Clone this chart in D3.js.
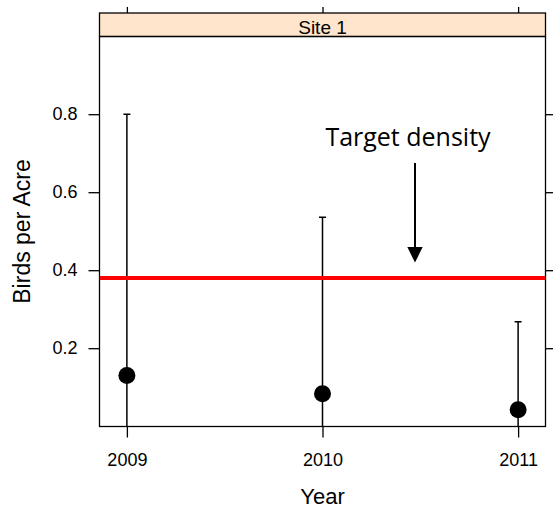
<!DOCTYPE html>
<html>
<head>
<meta charset="utf-8">
<script src="https://cdn.jsdelivr.net/npm/d3@7/dist/d3.min.js"></script>
<style>
  html, body { margin: 0; padding: 0; background: #fff; }
  svg { display: block; }
  .axis text { font-family: "Liberation Sans", Arial, Helvetica, sans-serif; font-size: 18px; fill: #000; }
  .axis line { stroke: #000; stroke-width: 1.3; }
  .axis path { display: none; }
</style>
</head>
<body>
<svg id="chart" width="553" height="509"></svg>
<script>
// Annual density estimates with upper/lower interval bounds
const years = [2009, 2010, 2011];
const density = [0.13, 0.083, 0.042];
const upper = [0.80, 0.536, 0.268];
const lower = [0, 0, 0];
const targetDensity = 0.38;
const yTicks = [0.2, 0.4, 0.6, 0.8];
const panelLabel = "Site 1";
const xTitle = "Year";
const yTitle = "Birds per Acre";
const noteText = "Target density";

const panel = { left: 99.5, right: 545.5, top: 36.5, bottom: 426.5 };
const strip = { top: 13, bottom: 36.5 };

const svg = d3.select("#chart");

const pad = 0.07 * (d3.max(years) - d3.min(years));
const x = d3.scaleLinear()
  .domain([d3.min(years) - pad, d3.max(years) + pad])
  .range([panel.left, panel.right]);
const y = d3.scaleLinear()
  .domain([0, 1])
  .range([panel.bottom - 0.3, panel.top - 0.3]);

// clip for panel contents
svg.append("defs").append("clipPath").attr("id", "panelClip")
  .append("rect")
  .attr("x", panel.left).attr("y", panel.top)
  .attr("width", panel.right - panel.left)
  .attr("height", panel.bottom - panel.top);

// axes
svg.append("g").attr("class", "axis")
  .attr("transform", `translate(${panel.left},0)`)
  .call(d3.axisLeft(y).tickValues(yTicks).tickFormat(d3.format(".1f"))
    .tickSize(11).tickSizeOuter(0).tickPadding(11));

svg.append("g").attr("class", "axis")
  .attr("transform", `translate(${panel.right},0)`)
  .call(d3.axisRight(y).tickValues(yTicks).tickFormat("")
    .tickSize(11).tickSizeOuter(0));

svg.append("g").attr("class", "axis")
  .attr("transform", `translate(0,${panel.bottom})`)
  .call(d3.axisBottom(x).tickValues(years).tickFormat(d3.format("d"))
    .tickSize(11).tickSizeOuter(0).tickPadding(16));

svg.append("g").attr("class", "axis")
  .attr("transform", `translate(0,${strip.top})`)
  .call(d3.axisTop(x).tickValues(years).tickFormat("")
    .tickSize(6).tickSizeOuter(0));

// strip header
svg.append("rect")
  .attr("x", panel.left).attr("y", strip.top)
  .attr("width", panel.right - panel.left)
  .attr("height", strip.bottom - strip.top)
  .attr("fill", "#ffe5cc").attr("stroke", "#000").attr("stroke-width", 1.3);
svg.append("text")
  .attr("x", (panel.left + panel.right) / 2).attr("y", 33.5)
  .attr("text-anchor", "middle")
  .style("font-family", "'Liberation Sans', Arial, Helvetica, sans-serif")
  .style("font-size", "19px")
  .text(panelLabel);

// panel border
svg.append("rect")
  .attr("x", panel.left).attr("y", panel.top)
  .attr("width", panel.right - panel.left)
  .attr("height", panel.bottom - panel.top)
  .attr("fill", "none").attr("stroke", "#000").attr("stroke-width", 1.3);

const plot = svg.append("g").attr("clip-path", "url(#panelClip)");

// error bars
const rows = years.map((yr, i) => ({ yr, d: density[i], hi: upper[i], lo: lower[i] }));
plot.selectAll("line.bar").data(rows).join("line")
  .attr("class", "bar")
  .attr("x1", d => x(d.yr)).attr("x2", d => x(d.yr))
  .attr("y1", d => y(d.lo)).attr("y2", d => y(d.hi))
  .attr("stroke", "#000").attr("stroke-width", 1.5);
plot.selectAll("line.cap").data(rows).join("line")
  .attr("class", "cap")
  .attr("x1", d => x(d.yr) - 3.5).attr("x2", d => x(d.yr) + 3.5)
  .attr("y1", d => y(d.hi)).attr("y2", d => y(d.hi))
  .attr("stroke", "#000").attr("stroke-width", 1.5);

// target line
plot.append("line")
  .attr("x1", panel.left).attr("x2", panel.right)
  .attr("y1", y(targetDensity)).attr("y2", y(targetDensity))
  .attr("stroke", "#ff0000").attr("stroke-width", 4);

// points
plot.selectAll("circle").data(rows).join("circle")
  .attr("cx", d => x(d.yr)).attr("cy", d => y(d.d))
  .attr("r", 8.5).attr("fill", "#000");

// annotation
svg.append("text")
  .attr("x", 408).attr("y", 145.5)
  .attr("text-anchor", "middle")
  .style("font-family", "'Open Sans', sans-serif")
  .style("font-size", "25px")
  .text(noteText);
const ax = 415;
svg.append("line")
  .attr("x1", ax).attr("x2", ax).attr("y1", 163).attr("y2", 248)
  .attr("stroke", "#000").attr("stroke-width", 2);
svg.append("path")
  .attr("d", `M${ax - 7.7},247 L${ax + 7.7},247 L${ax},262.5 Z`)
  .attr("fill", "#000");

// axis titles
svg.append("text")
  .attr("x", (panel.left + panel.right) / 2).attr("y", 504)
  .attr("text-anchor", "middle")
  .style("font-family", "'Liberation Sans', Arial, Helvetica, sans-serif")
  .style("font-size", "22px")
  .text(xTitle);
svg.append("text")
  .attr("transform", `translate(30,${(panel.top + panel.bottom) / 2}) rotate(-90)`)
  .attr("text-anchor", "middle")
  .style("font-family", "'Liberation Sans', Arial, Helvetica, sans-serif")
  .style("font-size", "23px")
  .text(yTitle);
</script>
</body>
</html>
